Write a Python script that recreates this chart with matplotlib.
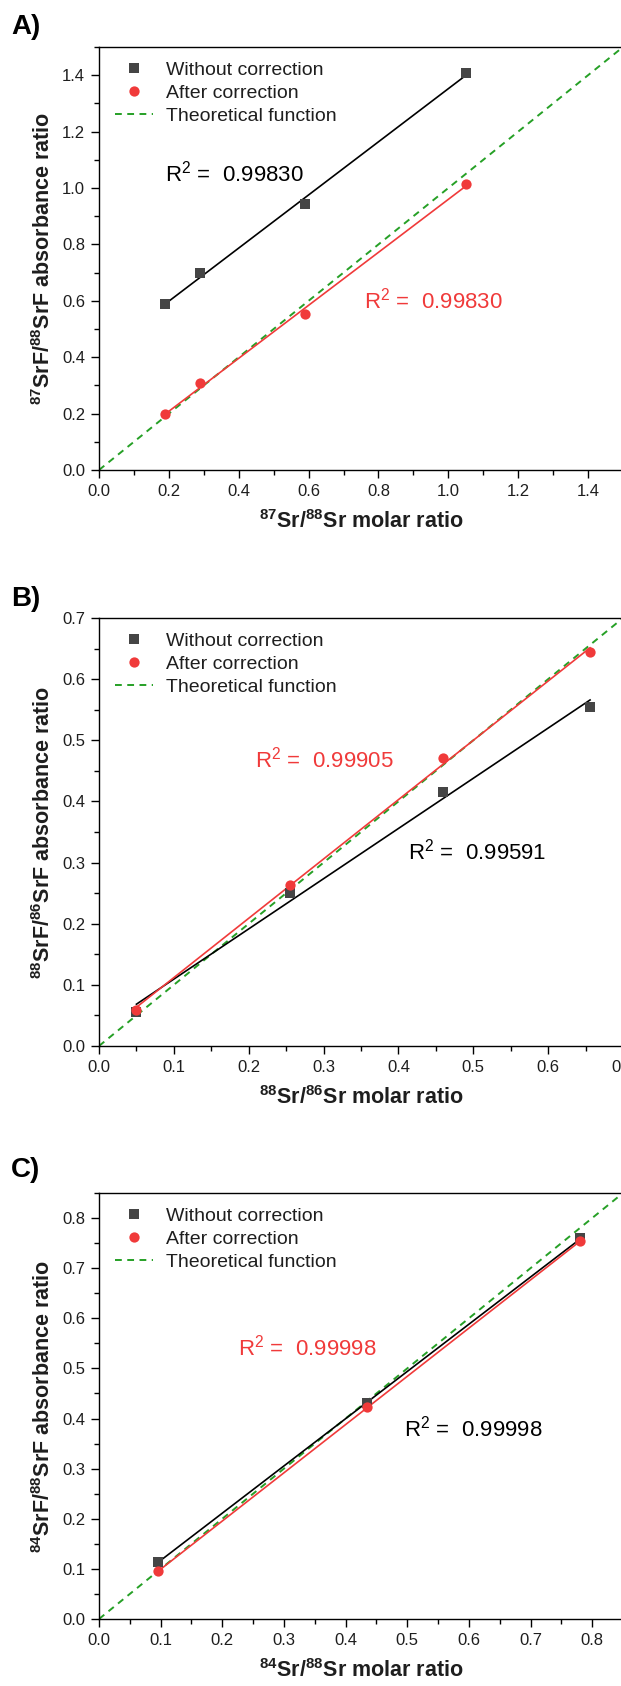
import matplotlib
matplotlib.use("Agg")
import matplotlib.pyplot as plt
import numpy as np
from matplotlib.ticker import MultipleLocator

plt.rcParams['font.family'] = ['Liberation Sans', 'DejaVu Sans']
plt.rcParams['mathtext.default'] = 'regular'

# panel A: 87Sr/88Sr
xA = [0.19, 0.29, 0.59, 1.05]
rawA = [0.589, 0.697, 0.944, 1.408]
corA = [0.197, 0.308, 0.553, 1.015]

# panel B: 88Sr/86Sr
xB = [0.05, 0.255, 0.46, 0.656]
rawB = [0.056, 0.250, 0.416, 0.554]
corB = [0.059, 0.264, 0.471, 0.644]

# panel C: 84Sr/88Sr
xC = [0.096, 0.435, 0.781]
rawC = [0.1145, 0.430, 0.760]
corC = [0.095, 0.4225, 0.754]

r2A = ["0.99830", "0.99830"]
r2B = ["0.99591", "0.99905"]
r2C = ["0.99998", "0.99998"]

GREY = '#454545'
RED = '#f03a3a'
GREEN = '#26a026'
TXT = '#1e1e1e'

fig = plt.figure(figsize=(6.21, 16.86), dpi=100)

W, H = 621., 1686.
def make_ax(top, bottom):
    return fig.add_axes([99/W, 1 - bottom/H, 524/W, (bottom - top)/H])

def panel(ax, x, raw, cor, lim, major, minor, xlab, ylab, r2, raw_txt, cor_txt):
    t = np.array([0, lim])
    ax.plot(t, t, ls=(0, (3.5, 2.8)), color=GREEN, lw=1.4, zorder=1)
    # linear fits through each series
    for ys, c in ((raw, 'black'), (cor, RED)):
        k, b = np.polyfit(x, ys, 1)
        xx = np.array([min(x), max(x)])
        ax.plot(xx, k*xx + b, color=c, lw=1.2, zorder=2)
    h1, = ax.plot(x, raw, 's', color=GREY, ms=6.8, mew=0, zorder=3,
                  label='Without correction')
    h2, = ax.plot(x, cor, 'o', color=RED, ms=7.4, mew=0, zorder=4,
                  label='After correction')
    h3, = ax.plot([], [], ls=(0, (3.5, 2.8)), color=GREEN, lw=1.4,
                  label='Theoretical function')
    ax.set_xlim(0, lim)
    ax.set_ylim(0, lim)
    ax.xaxis.set_major_locator(MultipleLocator(major))
    ax.xaxis.set_minor_locator(MultipleLocator(minor))
    ax.yaxis.set_major_locator(MultipleLocator(major))
    ax.yaxis.set_minor_locator(MultipleLocator(minor))
    ax.tick_params(which='major', direction='out', length=6, width=1,
                   labelsize=12, labelcolor=TXT, pad=4)
    ax.tick_params(which='minor', direction='out', length=3.5, width=1)
    ax.tick_params(top=False, right=False)
    for s in ax.spines.values():
        s.set_linewidth(1.0)
    ax.set_xlabel(xlab, fontsize=15.5, fontweight='bold', labelpad=8, color=TXT)
    ax.set_ylabel(ylab, fontsize=15.5, fontweight='bold', labelpad=5, color=TXT)
    ax.legend(handles=[h1, h2, h3], loc='upper left', bbox_to_anchor=(0.016, 0.985),
              frameon=False, fontsize=14, handlelength=1.95, handletextpad=0.67,
              labelspacing=0.28, borderaxespad=0, labelcolor=TXT)
    ax.text(raw_txt[0], raw_txt[1], 'R$^2$ =  ' + r2[0], fontsize=16,
            color='black', va='center')
    ax.text(cor_txt[0], cor_txt[1], 'R$^2$ =  ' + r2[1], fontsize=16,
            color=RED, va='center')

axA = make_ax(47, 470)
panel(axA, xA, rawA, corA, 1.5, 0.2, 0.1,
      '$^{87}$Sr/$^{88}$Sr molar ratio', '$^{87}$SrF/$^{88}$SrF absorbance ratio',
      r2A, (0.19, 1.05), (0.76, 0.60))

axB = make_ax(618, 1046)
panel(axB, xB, rawB, corB, 0.7, 0.1, 0.05,
      '$^{88}$Sr/$^{86}$Sr molar ratio', '$^{88}$SrF/$^{86}$SrF absorbance ratio',
      r2B, (0.413, 0.318), (0.208, 0.468))

axC = make_ax(1193, 1619)
panel(axC, xC, rawC, corC, 0.85, 0.1, 0.05,
      '$^{84}$Sr/$^{88}$Sr molar ratio', '$^{84}$SrF/$^{88}$SrF absorbance ratio',
      r2C, (0.495, 0.380), (0.225, 0.542))

for lab, y in (('A)', 27), ('B)', 599), ('C)', 1170)):
    fig.text(11/W, 1 - y/H, lab, fontsize=20, fontweight='bold', va='center', ha='left')

fig.savefig('out.png', dpi=100)
